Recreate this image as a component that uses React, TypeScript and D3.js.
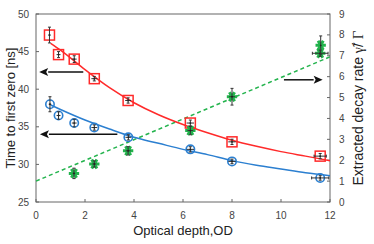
import React from 'react';
import * as d3 from 'd3';

// optical depth of each measurement
const odRed = [0.55, 0.92, 1.56, 2.38, 3.76, 6.3, 8.0, 11.6];
const timeRed = [47.2, 44.6, 44.0, 41.4, 38.5, 35.5, 33.0, 31.1];
const errRed = [1.05, 0.4, 0.45, 0.3, 0.35, 0.4, 0.35, 0.35];
const xErrRed = [0.05, 0.08, 0.1, 0.12, 0.12, 0.15, 0.15, 0.25];

const odBlue = [0.57, 0.92, 1.56, 2.38, 3.77, 6.3, 8.0, 11.6];
const timeBlue = [38.0, 36.5, 35.5, 34.9, 33.6, 32.0, 30.4, 28.2];
const errBlue = [1.0, 0.5, 0.5, 0.35, 0.35, 0.35, 0.3, 0.3];
const xErrBlue = [0.05, 0.08, 0.1, 0.12, 0.12, 0.15, 0.15, 0.35];

// decay rate (right axis)
const odGreen = [1.55, 2.38, 3.76, 6.3, 8.0, 11.6, 11.62];
const rateGreen = [1.37, 1.82, 2.45, 3.42, 5.04, 7.12, 7.5];
const errGreen = [0.25, 0.15, 0.2, 0.2, 0.4, 0.15, 0.45];
const xErrGreen = [0.05, 0.08, 0.1, 0.12, 0.12, 0.32, 0];

// fit curves
const fitX = [0.6, 1, 2, 3, 4, 5, 6, 7, 8, 9, 10, 11, 12];
const fitRed = [46.1, 45.2, 42.6, 40.2, 38.2, 36.6, 35.3, 34.2, 33.2, 32.4, 31.7, 31.1, 30.5];
const fitBlue = [37.9, 37.3, 35.9, 34.7, 33.6, 32.8, 32.0, 31.3, 30.5, 29.9, 29.4, 28.9, 28.5];
const fitGreenX = [0, 12];
const fitGreen = [1.0, 6.95];

// arrows: [x from, x to, y, axis]
const arrows: [number, number, number, string][] = [
  [1.93, 0.13, 42.3, 'left'],
  [3.32, 0.16, 34.0, 'left'],
  [10.12, 11.7, 5.85, 'right'],
];

const xTicks = [0, 2, 4, 6, 8, 10, 12];
const leftTicks = [25, 30, 35, 40, 45, 50];
const rightTicks = [0, 1, 2, 3, 4, 5, 6, 7, 8, 9];

const W = 374;
const H = 244;
const margin = { top: 14, right: 44, bottom: 42, left: 36 };

const RED = '#ff2a2a';
const BLUE = '#2b7fd0';
const GREEN = '#22b34c';
const AXIS = '#666';
const TICKTXT = '#444';
const font = 'Arial, "Liberation Sans", sans-serif';
const serif = '"Liberation Serif", "DejaVu Serif", serif';

export default function App() {
  const x = d3.scaleLinear().domain([0, 12]).range([margin.left, W - margin.right]);
  const yL = d3.scaleLinear().domain([25, 50]).range([H - margin.bottom, margin.top]);
  const yR = d3.scaleLinear().domain([0, 9]).range([H - margin.bottom, margin.top]);

  const line = d3.line<[number, number]>().x((d) => d[0]).y((d) => d[1]).curve(d3.curveMonotoneX);
  const redPath = line(fitX.map((v, i) => [x(v), yL(fitRed[i])]));
  const bluePath = line(fitX.map((v, i) => [x(v), yL(fitBlue[i])]));
  const greenPath = line(fitGreenX.map((v, i) => [x(v), yR(fitGreen[i])]));

  const star = d3.symbol(d3.symbolAsterisk, 75)();

  const errBars = (xs: number[], ys: number[], ye: number[], xe: number[], y: d3.ScaleLinear<number, number>) =>
    xs.map((v, i) => {
      const cx = x(v);
      const cy = y(ys[i]);
      const y1 = y(ys[i] + ye[i]);
      const y2 = y(ys[i] - ye[i]);
      const x1 = x(v - xe[i]);
      const x2 = x(v + xe[i]);
      return (
        <g key={i} stroke="#333" strokeWidth={1}>
          <line x1={cx} x2={cx} y1={y1} y2={y2} />
          <line x1={cx - 1.5} x2={cx + 1.5} y1={y1} y2={y1} />
          <line x1={cx - 1.5} x2={cx + 1.5} y1={y2} y2={y2} />
          {xe[i] > 0 && <line x1={x1} x2={x2} y1={cy} y2={cy} />}
          {xe[i] > 0.2 && <line x1={x1} x2={x1} y1={cy - 1.5} y2={cy + 1.5} />}
          {xe[i] > 0.2 && <line x1={x2} x2={x2} y1={cy - 1.5} y2={cy + 1.5} />}
          <circle cx={cx} cy={cy} r={0.9} fill="#222" stroke="none" />
        </g>
      );
    });

  return (
    <svg width={W} height={H} style={{ position: 'absolute', left: 0, top: 0, background: '#fff' }} fontFamily={font}>
      {/* frame */}
      <rect
        x={margin.left}
        y={margin.top}
        width={W - margin.left - margin.right}
        height={H - margin.top - margin.bottom}
        fill="none"
        stroke={AXIS}
        strokeWidth={1}
      />
      {xTicks.map((t) => (
        <g key={'x' + t}>
          <line x1={x(t)} x2={x(t)} y1={yL(25)} y2={yL(25) - 3} stroke={AXIS} />
          <text x={x(t)} y={yL(25) + 17} textAnchor="middle" fontSize={10} fill={TICKTXT}>
            {t}
          </text>
        </g>
      ))}
      {leftTicks.map((t) => (
        <g key={'l' + t}>
          <line x1={margin.left} x2={margin.left + 3} y1={yL(t)} y2={yL(t)} stroke={AXIS} />
          <text x={margin.left - 7} y={yL(t) + 3.5} textAnchor="end" fontSize={10} fill={TICKTXT}>
            {t}
          </text>
        </g>
      ))}
      {rightTicks.map((t) => (
        <g key={'r' + t}>
          <line x1={W - margin.right} x2={W - margin.right - 3} y1={yR(t)} y2={yR(t)} stroke={AXIS} />
          <text x={W - margin.right + 9} y={yR(t) + 3.5} textAnchor="start" fontSize={10} fill={TICKTXT}>
            {t}
          </text>
        </g>
      ))}

      {/* axis titles */}
      <text x={183} y={235} textAnchor="middle" fontSize={13} fill="#222">
        Optical depth,OD
      </text>
      <text
        transform={`translate(15,${(margin.top + H - margin.bottom) / 2}) rotate(-90)`}
        textAnchor="middle"
        fontSize={13}
        fill="#222"
      >
        Time to first zero [ns]
      </text>
      <text
        transform={`translate(363,${(margin.top + H - margin.bottom) / 2}) rotate(-90)`}
        textAnchor="middle"
        fontSize={14}
        fill="#222"
      >
        Extracted decay rate{' '}
        <tspan fontFamily={serif}>γ̃</tspan>
        <tspan>/ </tspan>
        <tspan fontFamily={serif} fontSize={15}>Γ</tspan>
      </text>

      {/* fits */}
      <path d={greenPath ?? ''} fill="none" stroke={GREEN} strokeWidth={1.5} strokeDasharray="4,3" />
      <path d={redPath ?? ''} fill="none" stroke={RED} strokeWidth={1.5} />
      <path d={bluePath ?? ''} fill="none" stroke={BLUE} strokeWidth={1.5} />

      {/* markers */}
      {odRed.map((v, i) => (
        <rect key={'rs' + i} x={x(v) - 5} y={yL(timeRed[i]) - 5} width={10} height={10} fill="none" stroke={RED} strokeWidth={1.5} />
      ))}
      {odBlue.map((v, i) => (
        <circle key={'bc' + i} cx={x(v)} cy={yL(timeBlue[i])} r={4.2} fill="none" stroke={BLUE} strokeWidth={1.6} />
      ))}
      {odGreen.map((v, i) => (
        <path key={'gs' + i} d={star ?? ''} transform={`translate(${x(v)},${yR(rateGreen[i])}) rotate(90)`} fill="none" stroke={GREEN} strokeWidth={3} />
      ))}
      {errBars(odRed, timeRed, errRed, xErrRed, yL)}
      {errBars(odBlue, timeBlue, errBlue, xErrBlue, yL)}
      {errBars(odGreen, rateGreen, errGreen, xErrGreen, yR)}

      {/* arrows */}
      {arrows.map(([a, b, v, side], i) => {
        const yy = side === 'left' ? yL(v) : yR(v);
        const x0 = x(a);
        const x1 = x(b);
        const dir = x1 > x0 ? 1 : -1;
        const hl = 9;
        return (
          <g key={'a' + i}>
            <line x1={x0} x2={x1 - dir * hl} y1={yy} y2={yy} stroke="#111" strokeWidth={1.5} />
            <path d={`M${x1},${yy} L${x1 - dir * hl},${yy - 4} L${x1 - dir * (hl - 2)},${yy} L${x1 - dir * hl},${yy + 4} Z`} fill="#111" />
          </g>
        );
      })}
    </svg>
  );
}
